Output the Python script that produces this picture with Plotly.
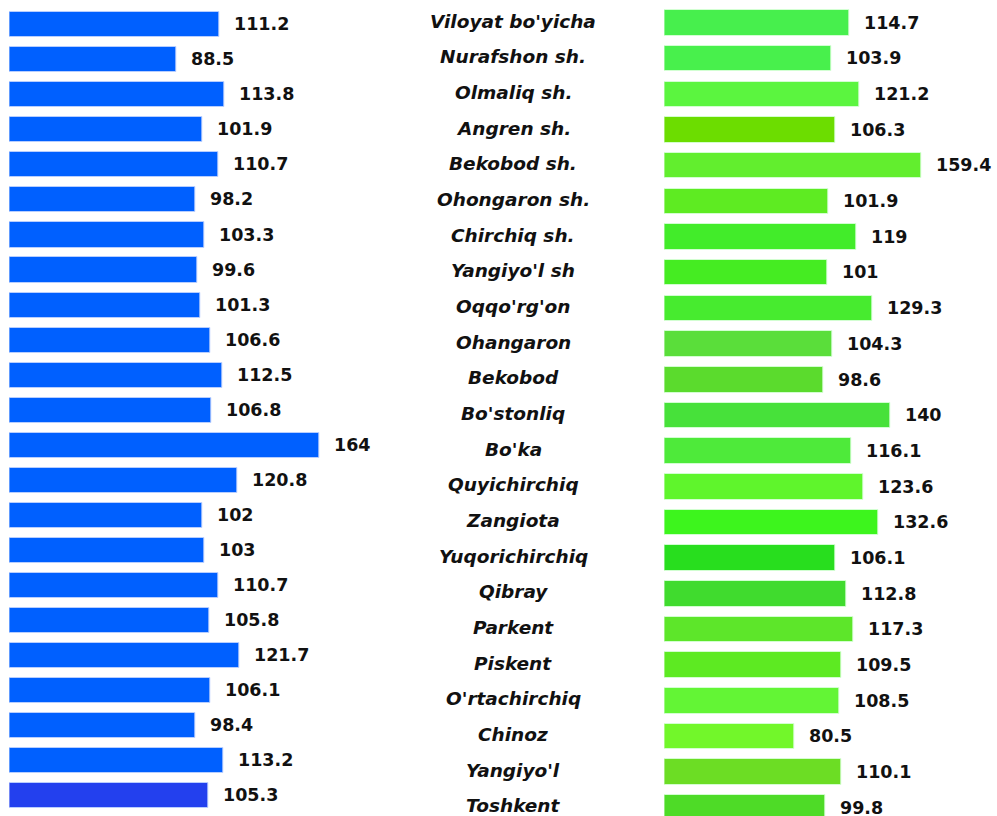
import plotly.graph_objects as go

categories = ["Viloyat bo'yicha", "Nurafshon sh.", "Olmaliq sh.", "Angren sh.", "Bekobod sh.",
              "Ohongaron sh.", "Chirchiq sh.", "Yangiyo'l sh", "Oqqo'rg'on", "Ohangaron",
              "Bekobod", "Bo'stonliq", "Bo'ka", "Quyichirchiq", "Zangiota", "Yuqorichirchiq",
              "Qibray", "Parkent", "Piskent", "O'rtachirchiq", "Chinoz", "Yangiyo'l", "Toshkent"]

left_values = [111.2, 88.5, 113.8, 101.9, 110.7, 98.2, 103.3, 99.6, 101.3, 106.6, 112.5, 106.8,
               164, 120.8, 102, 103, 110.7, 105.8, 121.7, 106.1, 98.4, 113.2, 105.3]

right_values = [114.7, 103.9, 121.2, 106.3, 159.4, 101.9, 119, 101, 129.3, 104.3, 98.6, 140,
                116.1, 123.6, 132.6, 106.1, 112.8, 117.3, 109.5, 108.5, 80.5, 110.1, 99.8]

left_colors = ["#0060FF"] * 22 + ["#2340EE"]
right_colors = ["#47EF4D", "#48F04C", "#5BF53F", "#6CDD00", "#62EE2E", "#5EEB22", "#42EC2A",
                "#45EC22", "#47EB2F", "#5ADE3A", "#5BDB2D", "#47E13A", "#4EEA3A", "#5FF52C",
                "#3DF51D", "#28DE1E", "#40DB2E", "#5DE62A", "#5DEA22", "#63F535", "#72F72A",
                "#6CDD24", "#4EDB27"]

W, H = 997, 816

num_font = dict(family="DejaVu Sans", size=17.5, color="#111111", weight="bold")
lab_font = dict(family="DejaVu Sans", size=18.5, color="#111111", weight="bold", style="italic")

fig = go.Figure()
fig.add_trace(go.Bar(
    y=categories, x=left_values, orientation="h", xaxis="x", yaxis="y",
    marker=dict(color=left_colors, line=dict(color="rgba(190,210,255,0.9)", width=1)),
    width=0.715, text=left_values, texttemplate="\u00a0\u00a0%{x}",
    textposition="outside", cliponaxis=False, constraintext="none",
    textfont=num_font, hoverinfo="skip", showlegend=False))
fig.add_trace(go.Bar(
    y=categories, x=right_values, orientation="h", xaxis="x2", yaxis="y2",
    marker=dict(color=right_colors, line=dict(color="rgba(215,255,215,0.9)", width=1)),
    width=0.715, text=right_values, texttemplate="\u00a0\u00a0%{x}",
    textposition="outside", cliponaxis=False, constraintext="none",
    textfont=num_font, hoverinfo="skip", showlegend=False))

for c in categories:
    fig.add_annotation(x=513 / W, xref="paper", y=c, yref="y2", text=c,
                       showarrow=False, xanchor="center", yanchor="middle",
                       yshift=2, font=lab_font)

# pixel geometry
l0, lstep, lscale = 24.8, 35.03, 1.89
r0, rstep, rscale = 23.0, 35.675, 1.612
lx0, rx0 = 9.3, 664.3

fig.update_layout(
    width=W, height=H, margin=dict(l=0, r=0, t=0, b=0, pad=0),
    paper_bgcolor="white", plot_bgcolor="white", bargap=0,
    xaxis=dict(domain=[lx0 / W, 1], range=[0, (W - lx0) / lscale], visible=False, fixedrange=True),
    xaxis2=dict(domain=[rx0 / W, 1], range=[0, (W - rx0) / rscale], visible=False,
                anchor="y2", fixedrange=True),
    yaxis=dict(domain=[0, 1], type="category", categoryorder="array", categoryarray=categories,
               range=[(H - l0) / lstep, -l0 / lstep], visible=False, anchor="x", fixedrange=True),
    yaxis2=dict(domain=[0, 1], type="category", categoryorder="array", categoryarray=categories,
                range=[(H - r0) / rstep, -r0 / rstep], visible=False, anchor="x2", fixedrange=True),
)

fig.write_html("out.html", config={"displayModeBar": False},
               post_script="document.body.style.margin='0';document.body.style.overflow='hidden';")
